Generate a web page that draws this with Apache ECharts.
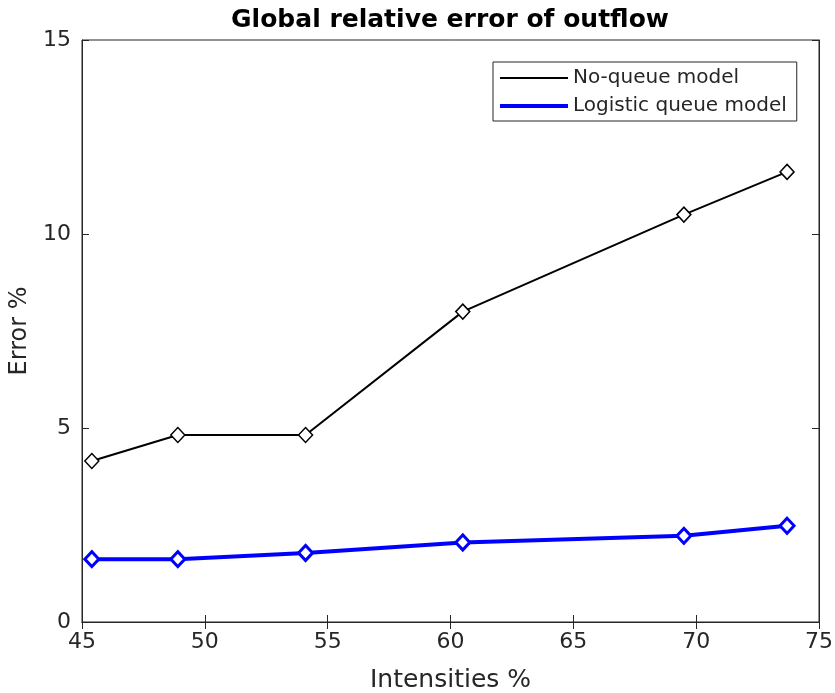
<!DOCTYPE html>
<html>
<head>
<meta charset="utf-8">
<script src="https://cdn.jsdelivr.net/npm/echarts@6/dist/echarts.min.js"></script>
<style>html,body{margin:0;padding:0;background:#fff}#c{width:835px;height:693px}</style>
</head>
<body>
<div id="c"></div>
<script>
const intensities = [45.4, 48.9, 54.1, 60.5, 69.5, 73.7];
const noQueue = [4.15, 4.82, 4.82, 8.0, 10.5, 11.6];
const logistic = [1.62, 1.62, 1.78, 2.05, 2.22, 2.48];
const seriesNames = ['No-queue model', 'Logistic queue model'];
const titleText = 'Global relative error of outflow';
const xName = 'Intensities %';
const yName = 'Error %';

const FONT = 'DejaVu Sans';
const TXT = '#262626';
const pair = (xs, ys) => xs.map((x, i) => [x, ys[i]]);

const chart = echarts.init(document.getElementById('c'));
chart.setOption({
  animation: false,
  backgroundColor: '#fff',
  title: {
    text: titleText, left: 445, textAlign: 'center', top: 3,
    textStyle: {fontFamily: FONT, fontSize: 25, fontWeight: 'bold', color: '#000'}
  },
  grid: {left: 82, right: 16, top: 40, bottom: 71, outerBoundsMode: 'none', containLabel: false,
         show: true, borderColor: TXT, borderWidth: 1, backgroundColor: '#fff'},
  legend: {
    orient: 'vertical', left: 493, top: 62,
    padding: [6, 10, 5, 5],
    itemWidth: 68, itemHeight: 14, itemGap: 8,
    borderColor: TXT, borderWidth: 1, backgroundColor: '#fff',
    textStyle: {fontFamily: FONT, fontSize: 20, color: TXT},
    itemStyle: {opacity: 0},
    data: [
      {name: seriesNames[0], lineStyle: {width: 2, color: '#000'}},
      {name: seriesNames[1], lineStyle: {width: 4, color: '#0000ff'}}
    ]
  },
  xAxis: [{
    type: 'value', min: 45, max: 75, interval: 5,
    name: xName, nameLocation: 'middle', nameGap: 46,
    nameTextStyle: {fontFamily: FONT, fontSize: 25, color: TXT},
    axisLine: {show: true, lineStyle: {color: TXT}},
    axisTick: {show: true, inside: true, length: 7, lineStyle: {color: TXT}},
    axisLabel: {fontFamily: FONT, fontSize: 22, color: TXT, margin: 9},
    splitLine: {show: false}
  }, {
    type: 'value', min: 45, max: 75, interval: 5, position: 'top',
    axisLine: {show: true, lineStyle: {color: TXT}},
    axisTick: {show: true, inside: true, length: 7, lineStyle: {color: TXT}},
    axisLabel: {show: false}, splitLine: {show: false}
  }],
  yAxis: [{
    type: 'value', min: 0, max: 15, interval: 5,
    name: yName, nameLocation: 'middle', nameGap: 45,
    nameTextStyle: {fontFamily: FONT, fontSize: 24, color: TXT},
    axisLine: {show: true, lineStyle: {color: TXT}},
    axisTick: {show: true, inside: true, length: 7, lineStyle: {color: TXT}},
    axisLabel: {fontFamily: FONT, fontSize: 22, color: TXT, margin: 11},
    splitLine: {show: false}
  }, {
    type: 'value', min: 0, max: 15, interval: 5, position: 'right',
    axisLine: {show: true, lineStyle: {color: TXT}},
    axisTick: {show: true, inside: true, length: 7, lineStyle: {color: TXT}},
    axisLabel: {show: false}, splitLine: {show: false}
  }],
  series: [{
    name: seriesNames[0], type: 'line', data: pair(intensities, noQueue),
    symbol: 'diamond', symbolSize: [14, 15],
    lineStyle: {color: '#000', width: 2},
    itemStyle: {color: '#fff', borderColor: '#000', borderWidth: 1.5},
    z: 3
  }, {
    name: seriesNames[1], type: 'line', data: pair(intensities, logistic),
    symbol: 'diamond', symbolSize: [14, 15],
    lineStyle: {color: '#0000ff', width: 4},
    itemStyle: {color: '#fff', borderColor: '#0000ff', borderWidth: 3},
    z: 4
  }]
});
</script>
</body>
</html>
